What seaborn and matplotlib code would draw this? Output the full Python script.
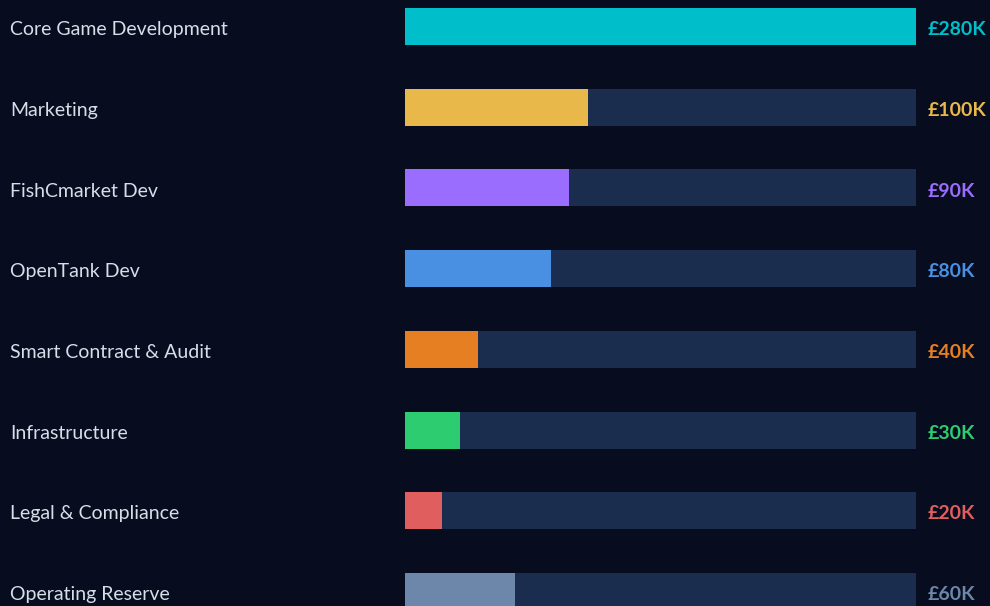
import numpy as np
import pandas as pd
import seaborn as sns
import matplotlib.pyplot as plt

# Data
categories = [
	'Core Game Development', 'Marketing', 'FishCmarket Dev', 'OpenTank Dev',
	'Smart Contract & Audit', 'Infrastructure', 'Legal & Compliance', 'Operating Reserve',
]
amounts_k = [280, 100, 90, 80, 40, 30, 20, 60]
value_labels = ['£280K', '£100K', '£90K', '£80K', '£40K', '£30K', '£20K', '£60K']
bar_colors = ['#00bfca', '#e8b84b', '#9b6dfe', '#4a90e2', '#e67f22', '#2ecc70', '#e05e5e', '#6c87aa']

BG = '#070d1f'
TRACK = '#1b2d4e'
LABEL = '#d6dee8'


def main():
	sns.set_theme(style='white')
	plt.rcParams['font.family'] = ['Lato', 'DejaVu Sans']

	df = pd.DataFrame({'category': categories, 'amount': amounts_k})
	df['track'] = max(amounts_k)

	fig = plt.figure(figsize=(9.9, 6.06), dpi=100, facecolor=BG)
	W, H = 990, 606
	ax = fig.add_axes([405 / W, 0, 511 / W, 1])
	ax.set_facecolor(BG)

	bh = 37 / 80.7
	sns.barplot(data=df, x='track', y='category', color=TRACK, width=bh,
				saturation=1, ax=ax, orient='h')
	sns.barplot(data=df, x='amount', y='category', hue='category', palette=bar_colors,
				width=bh, saturation=1, legend=False, ax=ax, orient='h')
	for p in ax.patches:
		p.set_linewidth(0)

	ax.set_xlim(0, max(amounts_k))
	row0 = 26.5
	step = 80.7
	ax.set_ylim((H - row0) / step, -row0 / step)
	ax.set_xlabel('')
	ax.set_ylabel('')
	ax.set_xticks([])
	ax.set_yticks([])
	for s in ax.spines.values():
		s.set_visible(False)

	trans_left = ax.get_yaxis_transform()
	for i, (cat, lbl, col) in enumerate(zip(categories, value_labels, bar_colors)):
		# category label at left edge of figure
		ax.text(-395 / 511, i + 0.04, cat, transform=trans_left, ha='left', va='center',
				fontsize=14, color=LABEL, clip_on=False)
		ax.text(1 + 12 / 511, i + 0.04, lbl, transform=trans_left, ha='left', va='center',
				fontsize=14, fontweight='bold', color=col, clip_on=False)

	fig.savefig('out.png', dpi=100, facecolor=BG)
	plt.close(fig)


if __name__ == '__main__':
	main()
